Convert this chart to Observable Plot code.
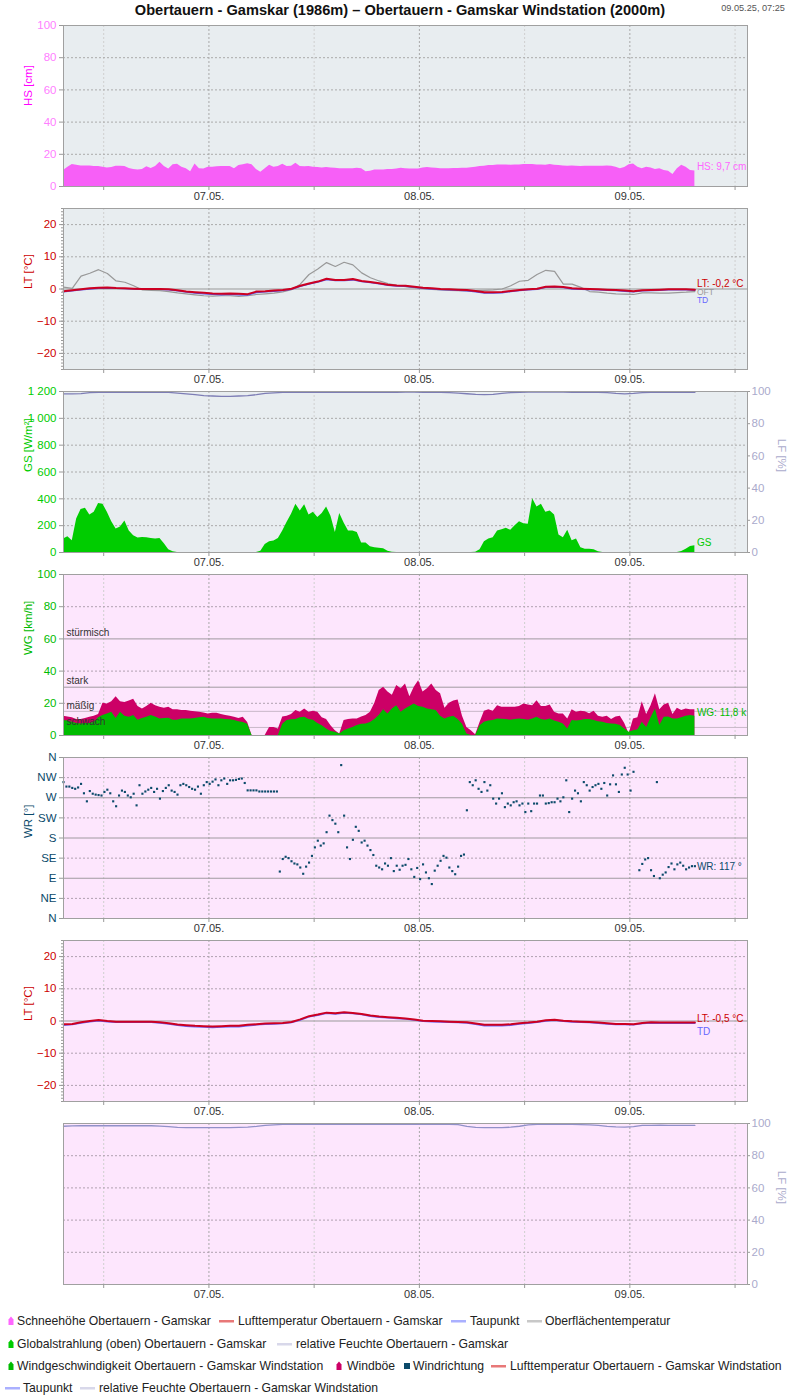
<!DOCTYPE html>
<html><head><meta charset="utf-8">
<script src="https://cdn.jsdelivr.net/npm/d3@7"></script>
<script src="https://cdn.jsdelivr.net/npm/@observablehq/plot@0.6"></script>
<style>
body{margin:0;background:#fff;font-family:"Liberation Sans",Arial,sans-serif;}
#root{position:relative;width:800px;height:1400px;overflow:hidden;}
#title{position:absolute;left:0;width:800px;top:2px;text-align:center;font-weight:bold;font-size:14.6px;color:#111;}
#stamp{position:absolute;right:15px;top:3px;font-size:9.2px;color:#555;}
.lg{position:absolute;font-size:12.2px;color:#222;white-space:nowrap;line-height:14px;}
.mk{position:absolute;}
</style></head><body><div id="root">
<div id="title">Obertauern - Gamskar (1986m) – Obertauern - Gamskar Windstation (2000m)</div>
<div id="stamp">09.05.25, 07:25</div>
</div>
<script>
// ---------- DATA ----------
// half-hourly series starting 06.05.2025 07:25
const hsValues = [9.9,12,13.6,13.2,12.8,12.8,12.8,12.4,12.4,12,11.5,11.8,12.6,12.6,12.4,11.2,10.5,10.3,10.6,12.2,11.2,12.5,15,12.5,10.9,13.5,13.8,12,11,9.2,14,11,10.9,12,12,12.2,12.4,12.4,12.4,11,13,13.5,14.2,13.5,10.5,8.8,11,13.2,12,12.4,13.8,12.4,12.6,14.4,12.4,12.2,12.4,12,11.8,11.5,11.8,11.5,11.3,11,11,11,11,11.3,11,9.2,9.5,10.2,10.3,10.3,10.5,10.5,10.9,11.3,11,10.9,10.9,10.9,11.5,11.8,11.5,11.3,11,11,11,11.2,11.2,11.3,11.3,11.6,12,12.5,12.6,13,13,13.3,13.4,13.4,13.2,13.4,13.4,13.6,13.6,13.6,13.4,13.4,13.2,13.6,13.2,13,12.8,12.6,12.8,12.6,12.4,12.6,12.6,12.6,12.6,12.6,12.8,12.6,12,11,11.8,13.5,14,12,11,12,11.5,10.5,11,10,9.5,7.4,11,13.2,12,10,9.7];
const gsValues = [100,118,88,250,320,330,280,300,365,360,300,230,175,190,235,160,125,108,112,110,105,100,105,65,20,6,
 0,0,0,0,0,0,0,0,0,0,0,0,0,0,0,0,0,0,
 0,10,60,80,85,105,160,225,285,360,310,355,280,300,260,290,340,270,150,290,220,160,160,150,70,70,42,35,32,28,10,2,
 0,0,0,0,0,0,0,0,0,0,0,0,0,0,0,0,0,0,
 2,20,80,100,110,160,170,180,165,200,230,215,210,400,340,360,300,310,280,130,110,165,88,100,35,25,25,20,5,
 0,0,0,0,0,0,0,0,0,0,0,0,0,0,0,0,0,0,
 8,25,45,50];
const gustValues = [12,11.5,11,10,10,10.5,11.3,12,13,20,19.6,21,24,21,20.5,21.5,22.5,18,16.5,18,20,18.5,17.5,17,17.5,16,16,15.5,15.5,15,14.8,14.4,14,13.4,13.8,13.8,13,12.4,12,11.3,10.5,11.3,8,0,0,0,0,5,5,4,11.5,12,13,15.5,14.4,16.5,14.4,15,14.4,11,10,6,3,1,9.3,10,10.3,10.3,11.5,12.4,14.4,20,28,30,27,25,31,29,32,24,30,34,27,29,32,28,26,17,20,21.5,22,12,5,3,0.4,8,15,16,15,18.5,17.5,17.5,17.5,17.5,18,19.5,19,18.5,21.6,18,18,19,14.4,13.4,13.4,10.3,16,14.5,15,14.8,13.5,15,12,11.3,12,10,11.5,12,7.5,1,10.3,11,21,13,18.5,26,16,19,20,13,17,15.5,16.5,16,16];
const windValues = [9.3,9,8.2,7.5,7.2,7.5,7.5,8,11,12.4,13.4,14.4,10.5,14.4,12,11.3,12.4,9.5,10.5,11.3,12.4,11.5,10.3,10.5,10.7,9.5,9.5,10.3,10.3,10.3,10.5,11,11.3,10.5,10.3,10.3,10.3,10,9.8,9.3,8.5,8,7,0,0,0,0,0,0,0,7,9.3,9.8,10,11,11.3,10,9.5,7.5,6,4,2.5,2,1,3,4,5,6.2,7,7.2,8,10,12.4,16,13.4,16.5,18.5,14.4,16.5,18,19.6,18,17.5,16.5,16,15.5,12,10.3,11.3,12,10,7,1,0,0,6,8.2,9,9.3,10.3,10.1,10,9.5,10,10.3,10,9.5,10.3,11.3,10,9.5,10.3,9,8.2,7.2,4,9.3,9,9.3,10,10,9.3,8.5,8.2,7.5,7.2,7,6.2,4,2,3,3.5,8.2,5,11,16.5,6.2,11.3,11.5,10.3,10.3,11,12,12.4,12];
// wind direction, 20-minute series starting 06.05.2025 07:25 (null = no value)
const wrValues = [305,295,295,292,290,293,301,280,262,285,279,277,276,275,283,288,280,262,251,275,286,283,275,271,279,253,298,279,284,288,292,283,290,268,285,292,298,286,283,277,298,301,298,294,290,288,295,279,298,305,301,306,311,298,309,313,301,309,309,310,312,313,303,286.5,286.5,286.5,286.5,284,284,284,284,284,284,284,
 105,133,138,135,128,123,121,114,100,116,125,140,159,174,163,168,193,230,220,212,193,343,230,159,133,176,205,196,170,174,163,153,142,118,114,110,123,118,135,106,118,109,
 118,120,133,110,93,113,88,121,103,90,77,107,118,129,140,136,114,106,99,116,140,143,242,305,298,309,290,283,305,286,298,268,257,268,280,249,257,253,260,262,253,257,238,257,240,257,257,275,275,257,258,260,260,268,262,271,309,238,268,286,280,262,305,298,286,294,298,301,290,303,275,300,320,300,283,322,337,322,286,328,null,108,122,132,135,108,95,305,90,98,103,115,123,110,121,125,118,110,114,117,117];
// hourly series starting 06.05.2025 07:25
const lt1Values = [-0.7,-0.4,-0.1,0.2,0.4,0.5,0.3,0.2,0.1,0,0,0,-0.1,-0.4,-0.8,-1.0,-1.2,-1.4,-1.5,-1.4,-1.5,-1.6,-0.8,-0.7,-0.5,-0.3,0.1,1.0,1.7,2.3,3.2,2.8,2.8,3.1,2.5,2.2,1.8,1.3,1.1,1.0,0.7,0.4,0.2,0,-0.1,-0.2,-0.3,-0.6,-1.0,-1.0,-0.9,-0.6,-0.3,-0.1,0.1,0.7,0.8,0.6,0.2,0.1,0,-0.1,-0.2,-0.3,-0.5,-0.7,-0.4,-0.3,-0.2,-0.1,-0.1,-0.1,-0.2];
const td1Values = [-0.9,-0.6,-0.3,0,0.2,0.3,0.2,0.1,0,-0.1,-0.1,-0.1,-0.3,-0.6,-1.0,-1.3,-1.5,-1.7,-1.8,-1.7,-1.8,-1.9,-1.1,-0.9,-0.7,-0.5,-0.1,0.8,1.5,2.1,2.9,2.6,2.6,2.8,2.3,2.0,1.6,1.1,0.9,0.8,0.5,0.2,0,-0.2,-0.3,-0.4,-0.6,-0.9,-1.3,-1.3,-1.2,-0.8,-0.5,-0.3,-0.1,0.5,0.6,0.4,0,-0.1,-0.2,-0.3,-0.4,-0.5,-0.7,-0.9,-0.6,-0.5,-0.4,-0.3,-0.3,-0.3,-0.4];
const oft1Values = [0.6,0.2,4.0,4.9,6.0,4.8,2.5,2.1,1.0,-0.3,-0.4,-0.5,-0.8,-1.2,-1.5,-1.8,-2.1,-2.2,-2.1,-2.1,-2.3,-2.1,-1.7,-1.5,-1.3,-0.9,-0.2,1.5,4.5,6.2,8.2,7.0,8.3,7.5,5.0,3.5,2.5,1.7,1.1,0.7,0.4,0.1,-0.1,-0.3,-0.4,-0.5,-0.6,-0.5,-0.4,-0.3,0.0,1.0,2.4,2.7,4.5,5.8,5.5,1.5,1.5,0.5,-0.8,-1.0,-1.3,-1.5,-1.6,-1.7,-1.2,-1.2,-1.3,-1.3,-1.1,-1.0,-0.8];
const lf1Values = [98.5,98.5,98.7,99.3,99.5,99.5,99.5,99.5,99.5,99.5,99.5,99.5,99.5,99,98.5,98,97.5,97.2,97,97,97.2,97.5,98,98.8,99.2,99.5,99.5,99.5,99.5,99.5,99.5,99.5,99.5,99.5,99.5,99.5,99.5,99.5,99.5,99.6,99.6,99.5,99.5,99.5,99.3,99,98.6,98.2,98,98.2,98.8,99.3,99.5,99.6,99.6,99.6,99.6,99.6,99.5,99.5,99.5,99.5,99.3,98.8,98.5,98.8,99.3,99.4,99.4,99.4,99.4,99.4,99.4];
const lt2Values = [-1.0,-0.9,-0.4,0,0.3,0,-0.2,-0.2,-0.2,-0.2,-0.2,-0.4,-0.7,-1.1,-1.3,-1.5,-1.6,-1.7,-1.6,-1.5,-1.5,-1.2,-1.0,-0.8,-0.7,-0.6,-0.3,0.5,1.5,2.0,2.6,2.4,2.7,2.5,2.2,1.7,1.4,1.2,1.0,0.8,0.5,0.1,0,-0.1,-0.2,-0.3,-0.4,-0.8,-1.2,-1.2,-1.2,-1.0,-0.7,-0.5,-0.2,0.2,0.4,0.1,-0.1,-0.2,-0.3,-0.5,-0.7,-0.9,-0.9,-1.0,-0.6,-0.4,-0.5,-0.5,-0.5,-0.5,-0.5];
const td2Values = [-1.3,-1.1,-0.6,-0.2,0.1,-0.2,-0.4,-0.4,-0.4,-0.4,-0.4,-0.6,-0.9,-1.3,-1.6,-1.8,-1.9,-2.0,-1.9,-1.8,-1.8,-1.5,-1.2,-1.0,-0.9,-0.8,-0.5,0.3,1.3,1.8,2.4,2.2,2.5,2.3,2.0,1.5,1.2,1.0,0.8,0.6,0.3,-0.1,-0.2,-0.3,-0.4,-0.5,-0.6,-1.0,-1.5,-1.5,-1.5,-1.3,-0.9,-0.7,-0.4,0,0.2,-0.1,-0.3,-0.4,-0.5,-0.7,-0.9,-1.1,-1.1,-1.2,-0.8,-0.6,-0.7,-0.7,-0.7,-0.7,-0.7];
const lf2Values = [98.3,98.5,98.6,98.6,98.6,98.6,98.6,98.6,98.6,98.6,98.6,98.4,98,97.6,97.5,97.4,97.4,97.4,97.4,97.5,97.6,97.8,98.2,98.8,99.2,99.4,99.5,99.5,99.5,99.5,99.5,99.5,99.5,99.5,99.5,99.5,99.5,99.5,99.5,99.4,99.4,99.4,99.4,99.4,99.5,99.3,98.2,97.6,97.5,97.5,97.5,97.7,98.3,99.1,99.4,99.5,99.5,99.5,99.4,99.3,99.2,98.8,98.2,97.9,97.8,98.0,98.8,98.8,98.9,98.8,98.8,98.8,98.8];

const dayLabels = ["07.05.","08.05.","09.05."];
const dirLabels = ["N","NE","E","SE","S","SW","W","NW","N"];
const windClasses = [{v:60,name:"stürmisch"},{v:30,name:"stark"},{v:15,name:"mäßig"},{v:5,name:"schwach"}];
const lastLabels = {hs:"HS: 9,7 cm", lt1:"LT: -0,2 °C", oft:"OFT", td:"TD", gs:"GS", wg:"WG: 11,8 k", wr:"WR: 117 °", lt2:"LT: -0,5 °C"};

// ---------- TABLES ----------
const T0 = Date.UTC(2025,4,6,7,25);
const MIN = 60*1000, HALF = 30*MIN, HOUR = 60*MIN;
const half = hsValues.map((v,i)=>({t:new Date(T0+i*HALF), hs:v, gs:gsValues[i], gust:gustValues[i], wg:windValues[i]}));
const wrRows = wrValues.map((v,i)=>({t:new Date(T0+i*20*MIN), wr:v}));
const hour = lt1Values.map((v,i)=>({t:new Date(T0+i*HOUR), lt1:v, td1:td1Values[i], oft1:oft1Values[i], lf1:lf1Values[i], lt2:lt2Values[i], td2:td2Values[i], lf2:lf2Values[i]}));
const lastH = half[half.length-1], lastHr = hour[hour.length-1], lastWr = wrRows[wrRows.length-1];
const xDomain = [new Date(T0), new Date(T0 + 78*HOUR)];
const dayTicks = [7,8,9].map(d=>new Date(Date.UTC(2025,4,d)));
const noonTicks = [6,7,8,9].map(d=>new Date(Date.UTC(2025,4,d,12)));
const minorT = [-25,-24,-23,-22,-21,-20,-19,-18,-17,-16,-15,-14,-13,-12,-11,-10,-9,-8,-7,-6,-5,-4,-3,-2,-1,0,1,2,3,4,5,6,7,8,9,10,11,12,13,14,15,16,17,18,19,20,21,22,23,24,25];

const root = document.getElementById("root");
const FONT = "Liberation Sans, Arial, sans-serif";
const BG1 = "#e8edf0", BG2 = "#fde6fd";

function xAxisMarks(){
  return [
    Plot.axisX({ticks:[...dayTicks,...noonTicks], tickSize:4, tickPadding:2, stroke:"#999", fill:"#333", fontSize:11,
      tickFormat: d => d.getUTCHours()===0 ? dayLabels[d.getUTCDate()-7] : "", label:null})
  ];
}
function vGrid(){
  return [
    Plot.ruleX(noonTicks, {stroke:"#cfcfcf", strokeDasharray:"2,2"}),
    Plot.ruleX(dayTicks, {stroke:"#a8a8a8", strokeDasharray:"2,2"})
  ];
}
function panel(top, yOpts, bg, marks){
  const svg = Plot.plot({
    width:800, height:193, marginLeft:63, marginRight:53, marginTop:10, marginBottom:22,
    style:{fontFamily:FONT, fontSize:"11px", background:"transparent", overflow:"visible"},
    x:{type:"utc", domain:xDomain},
    y:yOpts,
    marks:[Plot.frame({fill:bg, stroke:"none"}), ...vGrid(), ...marks, Plot.frame({stroke:"#a0a0a0"}), ...xAxisMarks()]
  });
  svg.style.position="absolute"; svg.style.left="0px"; svg.style.top=(top-10)+"px";
  root.appendChild(svg);
}
const yTitle = (txt, color) => Plot.text([txt], {frameAnchor:"left", dx:-35, rotate:-90, fill:color, fontSize:11.5});
const yTitleR = (txt, color) => Plot.text([txt], {frameAnchor:"right", dx:34, rotate:90, fill:color, fontSize:11.5});
const lbl = (row, yv, txt, color, dy, fs=10) => Plot.text([row], {x:"t", y:yv, text:()=>txt, dx:2, dy, textAnchor:"start", fill:color, fontSize:fs});

// Panel 1: HS
panel(25, {domain:[0,100]}, BG1, [
  Plot.ruleY([20,40,60,80], {stroke:"#aaa", strokeDasharray:"2,2"}),
  Plot.areaY(half, {x:"t", y:"hs", fill:"#f75ff7"}),
  lbl(lastH, "hs", lastLabels.hs, "#ff66ff", -4),
  Plot.axisY({ticks:[0,20,40,60,80,100], tickSize:4, tickPadding:3, stroke:"#999", fill:"#ff80ff", fontSize:11.5, label:null}),
  yTitle("HS [cm]", "#ff00ff")
]);

// Panel 2: LT station 1
panel(208, {domain:[-25,25]}, BG1, [
  Plot.ruleY([-20,-10,10,20], {stroke:"#aaa", strokeDasharray:"2,2"}),
  Plot.ruleY([0], {stroke:"#999"}),
  Plot.lineY(hour, {x:"t", y:"oft1", stroke:"#999", strokeWidth:1.2}),
  Plot.lineY(hour, {x:"t", y:"td1", stroke:"#5555ee", strokeWidth:1.3}),
  Plot.lineY(hour, {x:"t", y:"lt1", stroke:"#cc0022", strokeWidth:2}),
  lbl(lastHr, "lt1", lastLabels.lt1, "#cc0000", -5.5),
  lbl(lastHr, "lt1", lastLabels.oft, "#999", 3, 8.5),
  lbl(lastHr, "lt1", lastLabels.td, "#6666ff", 11, 8.5),
  Plot.axisY({ticks:minorT, tickSize:2, stroke:"#999", fill:"none", tickFormat:()=>"", label:null}),
  Plot.axisY({ticks:[-20,-10,0,10,20], tickSize:4, tickPadding:3, stroke:"#999", fill:"#cc0000", fontSize:11.5, label:null}),
  yTitle("LT [°C]", "#cc0000")
]);

// Panel 3: GS + LF (LF mapped onto 0..1200 via factor 12)
panel(391, {domain:[0,1200]}, BG1, [
  Plot.ruleY([200,400,600,800,1000], {stroke:"#aaa", strokeDasharray:"2,2"}),
  Plot.areaY(half, {x:"t", y:"gs", fill:"#00cc00"}),
  Plot.lineY(hour, {x:"t", y:d=>d.lf1*12, stroke:"#7d7db5", strokeWidth:1.3}),
  lbl(lastH, "gs", lastLabels.gs, "#00cc00", -3),
  Plot.axisY({ticks:[0,200,400,600,800,1000,1200], tickSize:4, tickPadding:3, stroke:"#999", fill:"#00cc00", fontSize:11.5, label:null,
    tickFormat:d=>d3.format(",")(d).replace(","," ")}),
  Plot.axisY({anchor:"right", ticks:[0,240,480,720,960,1200], tickSize:2, tickPadding:2, stroke:"#999", fill:"#aaaacc", fontSize:11.5, label:null, tickFormat:d=>d/12}),
  yTitle("GS [W/m²]", "#00cc00"),
  yTitleR("LF [%]", "#aaaacc")
]);

// Panel 4: Wind speed and gusts
panel(574, {domain:[0,100]}, BG2, [
  Plot.ruleY([20,40,80], {stroke:"#b0a0b0", strokeDasharray:"2,2"}),
  Plot.ruleY(windClasses, {y:"v", stroke:d=>d.v>=30?"#a09aa0":"#c8b8c8"}),
  Plot.areaY(half, {x:"t", y:"gust", fill:"#cc0066"}),
  Plot.areaY(half, {x:"t", y:"wg", fill:"#00bb00"}),
  Plot.text(windClasses, {frameAnchor:"left", y:"v", text:"name", dx:3, dy:-6, textAnchor:"start", fill:"#333", fontSize:10}),
  lbl(lastH, "wg", lastLabels.wg, "#00bb00", -3),
  Plot.axisY({ticks:[0,20,40,60,80,100], tickSize:4, tickPadding:3, stroke:"#999", fill:"#00bb00", fontSize:11.5, label:null}),
  yTitle("WG [km/h]", "#00bb00")
]);

// Panel 5: Wind direction
panel(757, {domain:[0,360]}, BG2, [
  Plot.ruleY([45,135,225,315], {stroke:"#b0a0b0", strokeDasharray:"2,2"}),
  Plot.ruleY([90,180,270], {stroke:"#a09aa0"}),
  Plot.dot(wrRows, {x:"t", y:"wr", symbol:"square", r:1.2, fill:"#0b4a6a", stroke:"none"}),
  lbl(lastWr, "wr", lastLabels.wr, "#0b4a6a", 1),
  Plot.axisY({ticks:[0,45,90,135,180,225,270,315,360], tickSize:4, tickPadding:3, stroke:"#999", fill:"#0b4a6a", fontSize:11.5, label:null, tickFormat:d=>dirLabels[d/45]}),
  yTitle("WR [°]", "#0b4a6a")
]);

// Panel 6: LT station 2
panel(940, {domain:[-25,25]}, BG2, [
  Plot.ruleY([-20,-10,10,20], {stroke:"#b0a0b0", strokeDasharray:"2,2"}),
  Plot.ruleY([0], {stroke:"#999"}),
  Plot.lineY(hour, {x:"t", y:"td2", stroke:"#6666ff", strokeWidth:1.5}),
  Plot.lineY(hour, {x:"t", y:"lt2", stroke:"#cc0022", strokeWidth:2}),
  lbl(lastHr, "lt2", lastLabels.lt2, "#cc0000", -4),
  lbl(lastHr, "lt2", lastLabels.td, "#6666ff", 9),
  Plot.axisY({ticks:minorT, tickSize:2, stroke:"#999", fill:"none", tickFormat:()=>"", label:null}),
  Plot.axisY({ticks:[-20,-10,0,10,20], tickSize:4, tickPadding:3, stroke:"#999", fill:"#cc0000", fontSize:11.5, label:null}),
  yTitle("LT [°C]", "#cc0000")
]);

// Panel 7: LF station 2
panel(1123, {domain:[0,100]}, BG2, [
  Plot.ruleY([20,40,60,80], {stroke:"#b0a0b0", strokeDasharray:"2,2"}),
  Plot.lineY(hour, {x:"t", y:"lf2", stroke:"#9090c8", strokeWidth:1.3}),
  Plot.axisY({anchor:"right", ticks:[0,20,40,60,80,100], tickSize:2, tickPadding:2, stroke:"#999", fill:"#aaaacc", fontSize:11.5, label:null}),
  yTitleR("LF [%]", "#aaaacc")
]);

// ---------- LEGEND ----------
const legendItems = [
  {row:0, mk:"area", color:"#ff66ff", mx:8, tx:17, text:"Schneehöhe Obertauern - Gamskar"},
  {row:0, mk:"line", color:"#e87878", mx:219, tx:238, text:"Lufttemperatur Obertauern - Gamskar"},
  {row:0, mk:"line", color:"#aab0ff", mx:451, tx:470, text:"Taupunkt"},
  {row:0, mk:"line", color:"#c8c8c8", mx:527, tx:545, text:"Oberflächentemperatur"},
  {row:1, mk:"area", color:"#00cc00", mx:8, tx:17, text:"Globalstrahlung (oben) Obertauern - Gamskar"},
  {row:1, mk:"line", color:"#d8d8ea", mx:277, tx:296, text:"relative Feuchte Obertauern - Gamskar"},
  {row:2, mk:"area", color:"#00bb00", mx:8, tx:17, text:"Windgeschwindigkeit Obertauern - Gamskar Windstation"},
  {row:2, mk:"area", color:"#cc0066", mx:336, tx:347, text:"Windböe"},
  {row:2, mk:"square", color:"#0b4a6a", mx:404, tx:413, text:"Windrichtung"},
  {row:2, mk:"line", color:"#e87878", mx:491, tx:510, text:"Lufttemperatur Obertauern - Gamskar Windstation"},
  {row:3, mk:"line", color:"#aab0ff", mx:5, tx:23, text:"Taupunkt"},
  {row:3, mk:"line", color:"#d8d8ea", mx:80, tx:99, text:"relative Feuchte Obertauern - Gamskar Windstation"}
];
const rowY = [1321, 1343.5, 1366, 1388];
const NS = "http://www.w3.org/2000/svg";
legendItems.forEach(it=>{
  const cy = rowY[it.row];
  const s = document.createElementNS(NS,"svg");
  s.setAttribute("class","mk");
  s.setAttribute("width","16"); s.setAttribute("height","12");
  s.style.left = it.mx+"px"; s.style.top = (cy-6)+"px";
  let el;
  if(it.mk==="line"){ el=document.createElementNS(NS,"rect"); el.setAttribute("x",0); el.setAttribute("y",5); el.setAttribute("width",15); el.setAttribute("height",2.5); }
  else if(it.mk==="square"){ el=document.createElementNS(NS,"rect"); el.setAttribute("x",0); el.setAttribute("y",3); el.setAttribute("width",6); el.setAttribute("height",6); }
  else { el=document.createElementNS(NS,"path"); el.setAttribute("d","M0.5,10 L0.5,4.5 L3,1.5 L5.5,4.5 L5.5,10 Z"); }
  el.setAttribute("fill", it.color);
  s.appendChild(el); root.appendChild(s);
  const d = document.createElement("div");
  d.className="lg"; d.textContent=it.text;
  d.style.left=it.tx+"px"; d.style.top=(cy-7)+"px";
  root.appendChild(d);
});
</script></body></html>
